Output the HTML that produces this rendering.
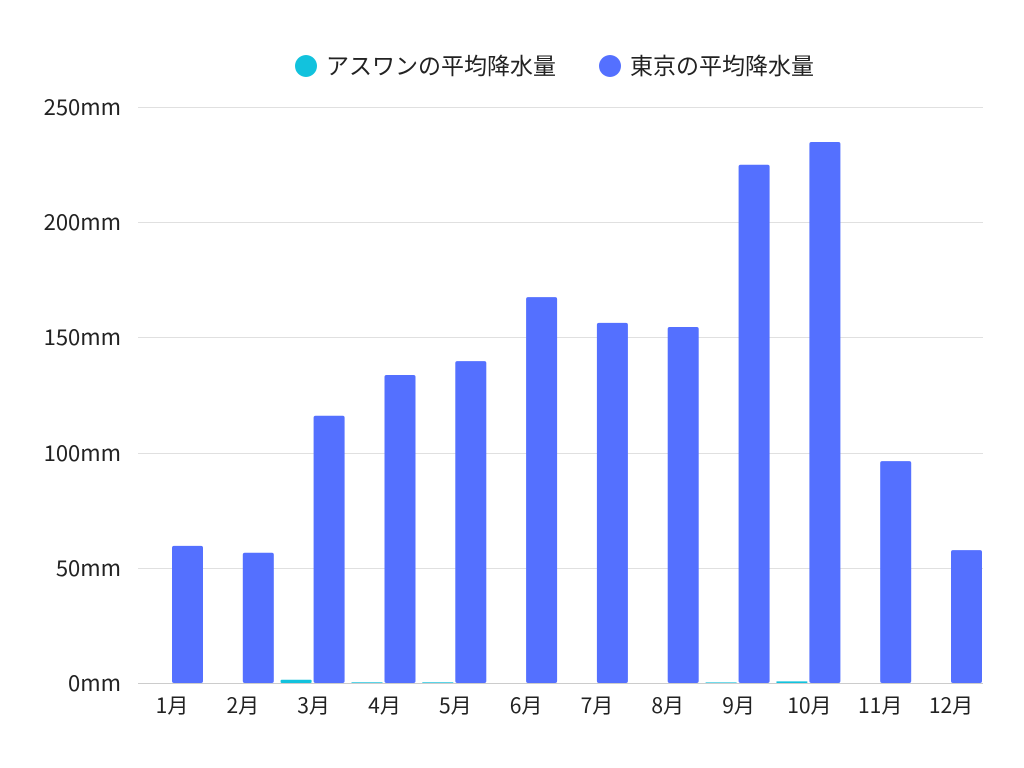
<!DOCTYPE html>
<html><head><meta charset="utf-8"><style>body{margin:0;background:#fff}svg{display:block}text{font-family:"Noto Sans CJK JP","Liberation Sans",sans-serif;fill:#222}</style></head>
<body>
<svg width="1024" height="768" xmlns="http://www.w3.org/2000/svg">
<g stroke="#e0e0e0" stroke-width="1">
<line x1="138" x2="983" y1="107.5" y2="107.5"/><line x1="138" x2="983" y1="222.5" y2="222.5"/><line x1="138" x2="983" y1="337.5" y2="337.5"/><line x1="138" x2="983" y1="453.5" y2="453.5"/><line x1="138" x2="983" y1="568.5" y2="568.5"/>
</g>
<g font-size="22" text-anchor="end">
<text x="121" y="115">250mm</text><text x="121" y="230">200mm</text><text x="121" y="345">150mm</text><text x="121" y="461">100mm</text><text x="121" y="576">50mm</text><text x="121" y="691">0mm</text>
</g>
<g fill="#5470ff">
<rect x="172" y="545.9" width="31" height="137.1" rx="2"/>
<rect x="242.8" y="552.8" width="31" height="130.2" rx="2"/>
<rect x="313.6" y="415.7" width="31" height="267.3" rx="2"/>
<rect x="384.5" y="375" width="31" height="308" rx="2"/>
<rect x="455.3" y="361.1" width="31" height="321.9" rx="2"/>
<rect x="526.1" y="297.1" width="31" height="385.9" rx="2"/>
<rect x="596.9" y="322.9" width="31" height="360.1" rx="2"/>
<rect x="667.7" y="327" width="31" height="356" rx="2"/>
<rect x="738.6" y="164.8" width="31" height="518.2" rx="2"/>
<rect x="809.4" y="142" width="31" height="541" rx="2"/>
<rect x="880.2" y="461.1" width="31" height="221.9" rx="2"/>
<rect x="951" y="550.1" width="31" height="132.9" rx="2"/>
</g>
<g fill="#12c2dd">
<rect x="280.6" y="679.8" width="31" height="3.2" rx="1"/>
<rect x="776.4" y="681.4" width="31" height="1.6" rx="0.5"/>
<rect x="351.5" y="682.3" width="31" height="0.7"/>
<rect x="422.3" y="682.3" width="31" height="0.7"/>
<rect x="705.6" y="682.4" width="31" height="0.6"/>
</g>
<line x1="138" x2="983" y1="683.5" y2="683.5" stroke="#ccc"/>
<g font-size="21" text-anchor="middle">
<text x="172" y="713">1月</text><text x="242.8" y="713">2月</text><text x="313.6" y="713">3月</text><text x="384.5" y="713">4月</text><text x="455.3" y="713">5月</text><text x="526.1" y="713">6月</text><text x="596.9" y="713">7月</text><text x="667.7" y="713">8月</text><text x="738.6" y="713">9月</text><text x="809.4" y="713">10月</text><text x="880.2" y="713">11月</text><text x="951" y="713">12月</text>
</g>
<circle cx="306" cy="66" r="11" fill="#12c2dd"/><text x="326" y="74" font-size="23">アスワンの平均降水量</text>
<circle cx="610" cy="66" r="11" fill="#5470ff"/><text x="630" y="74" font-size="23">東京の平均降水量</text>
</svg>
</body></html>
